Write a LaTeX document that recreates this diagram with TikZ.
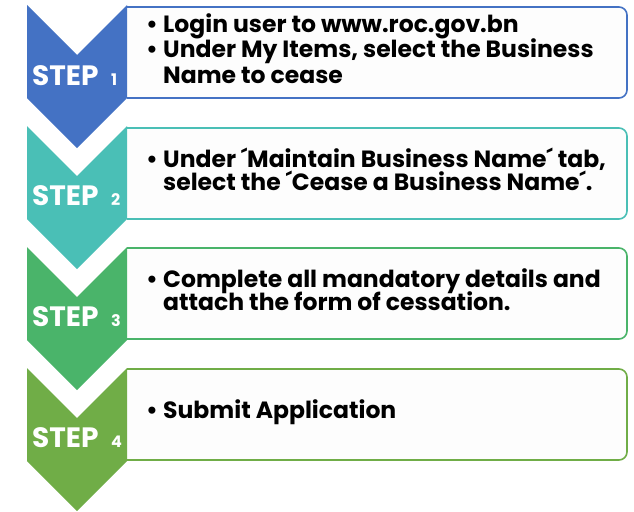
\documentclass[tikz,border=0pt]{standalone}
\usepackage{fontspec}
\setmainfont{Poppins}
\newcommand{\prm}{´}
\newcommand{\blt}{\makebox[17pt][l]{\textbullet}}

\definecolor{stepblue}{HTML}{4472C4}
\definecolor{stepteal}{HTML}{4ABFB6}
\definecolor{stepgreen}{HTML}{4AB46A}
\definecolor{stepolive}{HTML}{70AD47}
\definecolor{boxfill}{HTML}{FDFDFD}

\tikzset{
  stepbox/.style={draw=#1, fill=boxfill, line width=1.6pt, rounded corners=8pt},
  steplbl/.style={text=white, anchor=base west, inner sep=0pt,
    font=\fontsize{28}{28}\selectfont\bfseries},
  stepnum/.style={text=white, anchor=base west, inner sep=0pt,
    font=\fontsize{16}{16}\selectfont\bfseries},
  itemtxt/.style={anchor=base west, inner sep=0pt,
    font=\fontsize{23.5}{24}\selectfont\bfseries}
}

\begin{document}
\begin{tikzpicture}[x=1pt,y=-1pt]
\useasboundingbox (0,0) rectangle (634,511);

% boxes
\filldraw[stepbox=stepblue] (127,7) -- (627,7) -- (627,98) -- (127,98);
\filldraw[stepbox=stepteal] (127,128) -- (627,128) -- (627,219) -- (127,219);
\filldraw[stepbox=stepgreen] (127,248) -- (627,248) -- (627,339) -- (127,339);
\filldraw[stepbox=stepolive] (127,369) -- (627,369) -- (627,460) -- (127,460);

% chevrons
\fill[stepblue] (27,5) -- (77,55) -- (127,5) -- (127,98) -- (77,148) -- (27,98) -- cycle;
\fill[stepteal] (27,126) -- (77,176) -- (127,126) -- (127,219) -- (77,269) -- (27,219) -- cycle;
\fill[stepgreen] (27,247) -- (77,297) -- (127,247) -- (127,340) -- (77,390) -- (27,340) -- cycle;
\fill[stepolive] (27,368) -- (77,418) -- (127,368) -- (127,461) -- (77,511) -- (27,461) -- cycle;

\node[steplbl] (s1) at (32,85) {STEP};
\node[stepnum] (n1) at (111,85) {1};
\node[steplbl] (s2) at (32,205) {STEP};
\node[stepnum] (n2) at (111,205) {2};
\node[steplbl] (s3) at (32,326) {STEP};
\node[stepnum] (n3) at (111,326) {3};
\node[steplbl] (s4) at (32,447) {STEP};
\node[stepnum] (n4) at (111,447) {4};

\node[itemtxt] (t11) at (146,33) {\blt Login user to www.roc.gov.bn};
\node[itemtxt] (t12) at (146,58) {\blt Under My Items, select the Business};
\node[itemtxt] (t13) at (163,83) {Name to cease};

\node[itemtxt] (t21) at (146,167) {\blt Under \prm Maintain Business Name\prm\ tab,};
\node[itemtxt] (t22) at (163,190) {select the \prm Cease a Business Name\prm.};

\node[itemtxt] (t31) at (146,287) {\blt Complete all mandatory details and};
\node[itemtxt] (t32) at (163,310) {attach the form of cessation.};

\node[itemtxt] (t41) at (146,418) {\blt Submit Application};
\end{tikzpicture}
\end{document}
